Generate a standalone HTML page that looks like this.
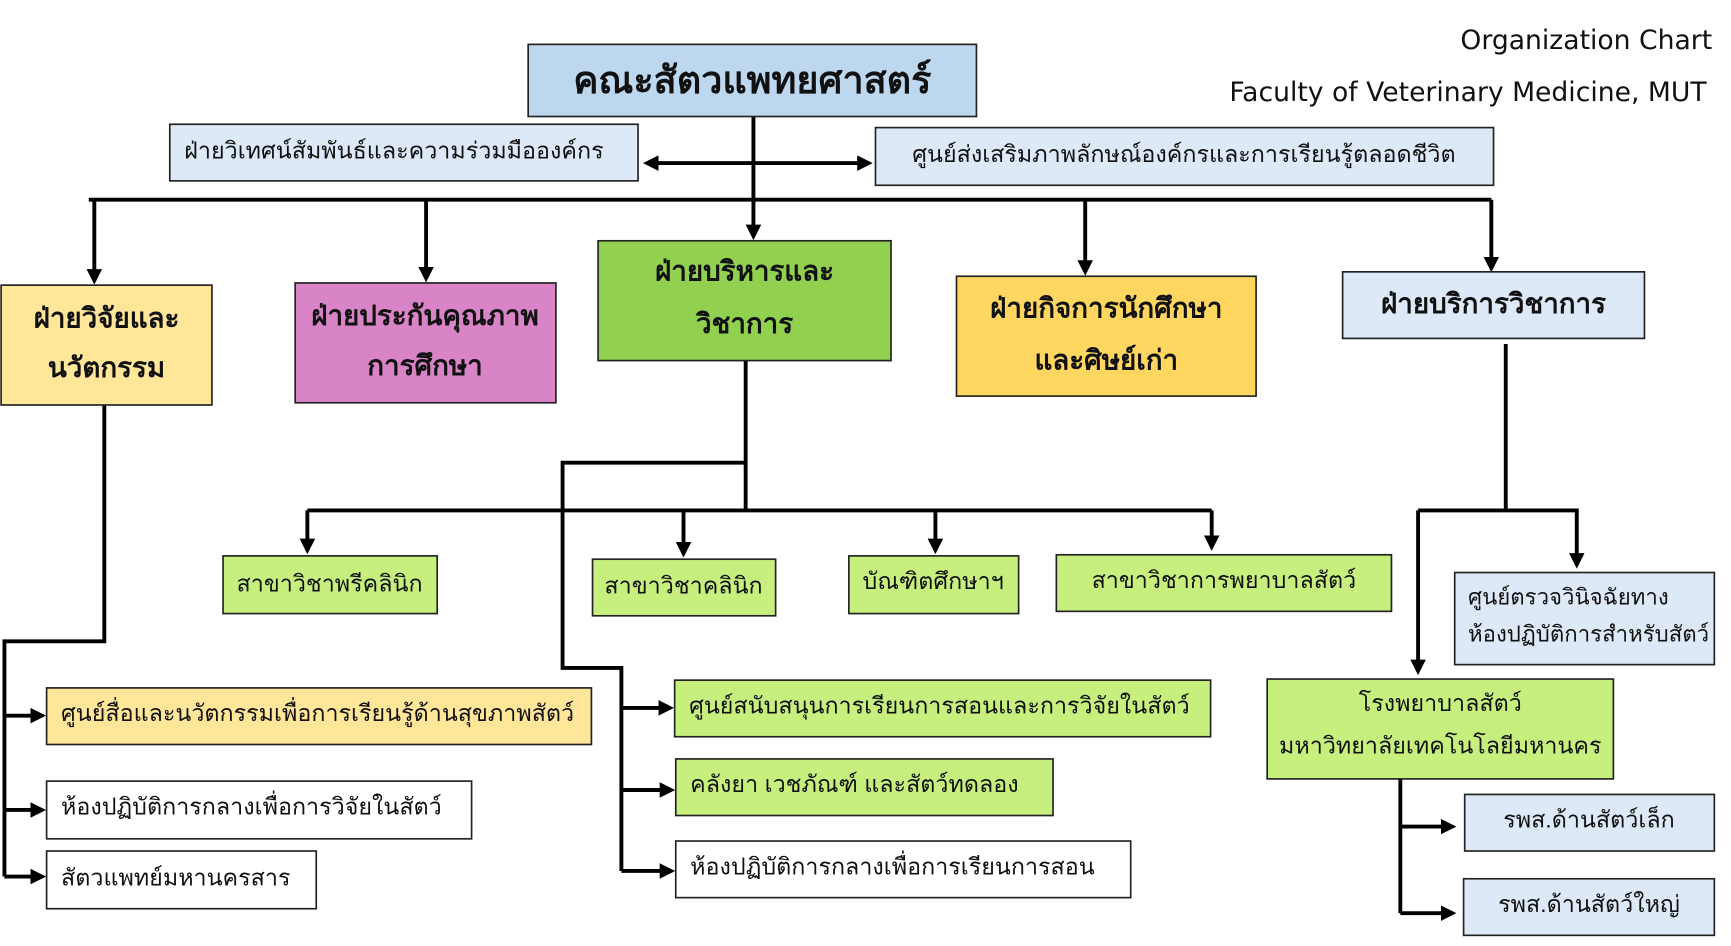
<!DOCTYPE html>
<html><head><meta charset="utf-8"><style>
html,body{margin:0;padding:0;background:#fff;overflow:hidden}
svg{display:block}
text{font-family:"Liberation Sans","DejaVu Sans",sans-serif;fill:#111}
.b{stroke:#222;stroke-width:1.5}
.l{stroke:#000;stroke-width:3.5;fill:none}
</style></head><body>
<svg width="1731" height="946" viewBox="0 0 1560 852.6" preserveAspectRatio="none" xmlns="http://www.w3.org/2000/svg">
<defs><marker id="a" markerWidth="4" markerHeight="4" refX="3" refY="2" orient="auto" markerUnits="strokeWidth"><path d="M0,0 L4,2 L0,4 z" fill="#000"/></marker>
<marker id="s" markerWidth="4" markerHeight="4" refX="1" refY="2" orient="auto" markerUnits="strokeWidth"><path d="M4,0 L0,2 L4,4 z" fill="#000"/></marker></defs>

<text x="1543" y="44" font-size="24" text-anchor="end" style="font-family:'DejaVu Sans',sans-serif">Organization Chart</text>
<text x="1538" y="91" font-size="24" text-anchor="end" style="font-family:'DejaVu Sans',sans-serif">Faculty of Veterinary Medicine, MUT</text>

<!-- lines -->
<path class="l" d="M679,105 V213" marker-end="url(#a)"/>
<path class="l" d="M583,147 H783" marker-start="url(#s)" marker-end="url(#a)"/>
<path class="l" d="M80,180 H1344"/>
<path class="l" d="M85,180 V253" marker-end="url(#a)"/>
<path class="l" d="M384,180 V251" marker-end="url(#a)"/>
<path class="l" d="M978,180 V245" marker-end="url(#a)"/>
<path class="l" d="M1344,180 V242" marker-end="url(#a)"/>
<path class="l" d="M672,325 V460"/>
<path class="l" d="M672,417 H507 V602 H560 V785"/>
<path class="l" d="M560,638 H604" marker-end="url(#a)"/>
<path class="l" d="M560,712 H605" marker-end="url(#a)"/>
<path class="l" d="M560,785 H605" marker-end="url(#a)"/>
<path class="l" d="M277,460 H1092"/>
<path class="l" d="M277,460 V496" marker-end="url(#a)"/>
<path class="l" d="M616,460 V499" marker-end="url(#a)"/>
<path class="l" d="M843,460 V496" marker-end="url(#a)"/>
<path class="l" d="M1092,460 V493" marker-end="url(#a)"/>
<path class="l" d="M94,365 V578 H4 V790"/>
<path class="l" d="M4,645 H38" marker-end="url(#a)"/>
<path class="l" d="M4,730 H38" marker-end="url(#a)"/>
<path class="l" d="M4,790 H38" marker-end="url(#a)"/>
<path class="l" d="M1357,310 V460"/>
<path class="l" d="M1278,460 H1421 V509" marker-end="url(#a)"/>
<path class="l" d="M1278,460 V605" marker-end="url(#a)"/>
<path class="l" d="M1262,702 V823"/>
<path class="l" d="M1262,745 H1309" marker-end="url(#a)"/>
<path class="l" d="M1262,823 H1309" marker-end="url(#a)"/>

<!-- boxes -->
<rect class="b" x="476" y="40" width="404" height="65" fill="#bdd7ee"/>
<text x="678" y="84" font-size="34" font-weight="bold" text-anchor="middle">คณะสัตวแพทยศาสตร์</text>
<rect class="b" x="153" y="112" width="422" height="51" fill="#dde9f6"/>
<text x="355" y="143" font-size="21" text-anchor="middle">ฝ่ายวิเทศน์สัมพันธ์และความร่วมมือองค์กร</text>
<rect class="b" x="789" y="115" width="557" height="52" fill="#dde9f6"/>
<text x="1067" y="146" font-size="21" text-anchor="middle">ศูนย์ส่งเสริมภาพลักษณ์องค์กรและการเรียนรู้ตลอดชีวิต</text>

<g font-weight="bold">
<rect class="b" x="1" y="257" width="190" height="108" fill="#ffe699"/>
<text x="96" y="295" font-size="25" text-anchor="middle">ฝ่ายวิจัยและ</text>
<text x="96" y="340" font-size="25" text-anchor="middle">นวัตกรรม</text>
<rect class="b" x="266" y="255" width="235" height="108" fill="#da84c8"/>
<text x="383" y="293" font-size="25" text-anchor="middle">ฝ่ายประกันคุณภาพ</text>
<text x="383" y="338" font-size="25" text-anchor="middle">การศึกษา</text>
<rect class="b" x="539" y="217" width="264" height="108" fill="#92d050"/>
<text x="671" y="253" font-size="25" text-anchor="middle">ฝ่ายบริหารและ</text>
<text x="671" y="300" font-size="25" text-anchor="middle">วิชาการ</text>
<rect class="b" x="862" y="249" width="270" height="108" fill="#ffd760"/>
<text x="997" y="286" font-size="25" text-anchor="middle">ฝ่ายกิจการนักศึกษา</text>
<text x="997" y="333" font-size="25" text-anchor="middle">และศิษย์เก่า</text>
<rect class="b" x="1210" y="245" width="272" height="60" fill="#dde9f6"/>
<text x="1346" y="282" font-size="25" text-anchor="middle">ฝ่ายบริการวิชาการ</text>
</g>

<g font-size="21">
<rect class="b" x="201" y="501" width="193" height="52" fill="#c6ef7e"/>
<text x="297" y="533" text-anchor="middle">สาขาวิชาพรีคลินิก</text>
<rect class="b" x="534" y="504" width="165" height="51" fill="#c6ef7e"/>
<text x="616" y="535" text-anchor="middle">สาขาวิชาคลินิก</text>
<rect class="b" x="765" y="501" width="153" height="52" fill="#c6ef7e"/>
<text x="841" y="531" text-anchor="middle">บัณฑิตศึกษาฯ</text>
<rect class="b" x="952" y="500" width="302" height="51" fill="#c6ef7e"/>
<text x="1103" y="530" text-anchor="middle">สาขาวิชาการพยาบาลสัตว์</text>

<rect class="b" x="42" y="620" width="491" height="51" fill="#ffe699"/>
<text x="55" y="650">ศูนย์สื่อและนวัตกรรมเพื่อการเรียนรู้ด้านสุขภาพสัตว์</text>
<rect class="b" x="42" y="704" width="383" height="52" fill="#fff"/>
<text x="55" y="734">ห้องปฏิบัติการกลางเพื่อการวิจัยในสัตว์</text>
<rect class="b" x="42" y="767" width="243" height="52" fill="#fff"/>
<text x="55" y="798">สัตวแพทย์มหานครสาร</text>

<rect class="b" x="608" y="613" width="483" height="51" fill="#c6ef7e"/>
<text x="621" y="643">ศูนย์สนับสนุนการเรียนการสอนและการวิจัยในสัตว์</text>
<rect class="b" x="609" y="684" width="340" height="51" fill="#c6ef7e"/>
<text x="622" y="714">คลังยา เวชภัณฑ์ และสัตว์ทดลอง</text>
<rect class="b" x="609" y="758" width="410" height="51" fill="#fff"/>
<text x="622" y="788">ห้องปฏิบัติการกลางเพื่อการเรียนการสอน</text>

<rect class="b" x="1311" y="516" width="234" height="83" fill="#dde9f6"/>
<text x="1323" y="545" font-size="20">ศูนย์ตรวจวินิจฉัยทาง</text>
<text x="1323" y="578" font-size="20">ห้องปฏิบัติการสำหรับสัตว์</text>
<rect class="b" x="1142" y="612" width="312" height="90" fill="#c6ef7e"/>
<text x="1298" y="641" text-anchor="middle">โรงพยาบาลสัตว์</text>
<text x="1298" y="679" text-anchor="middle">มหาวิทยาลัยเทคโนโลยีมหานคร</text>
<rect class="b" x="1320" y="716" width="225" height="51" fill="#dde9f6"/>
<text x="1432" y="746" text-anchor="middle">รพส.ด้านสัตว์เล็ก</text>
<rect class="b" x="1319" y="792" width="226" height="51" fill="#dde9f6"/>
<text x="1432" y="822" text-anchor="middle">รพส.ด้านสัตว์ใหญ่</text>
</g>
</svg>
</body></html>
